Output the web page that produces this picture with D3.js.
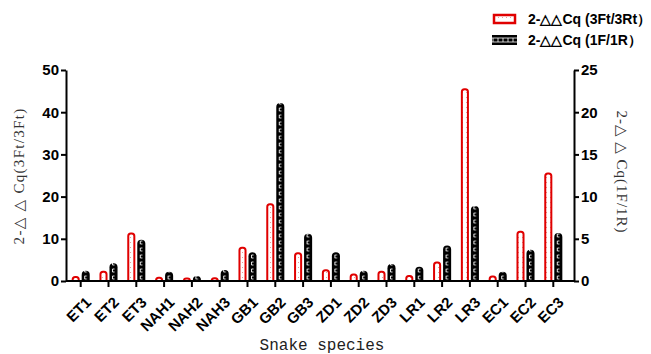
<!DOCTYPE html>
<html><head><meta charset="utf-8">
<script src="https://cdn.jsdelivr.net/npm/d3@7/dist/d3.min.js"></script>
<style>
body{margin:0;background:#fff;}
svg{display:block;}
.tk text{font-family:Arial,"Liberation Sans",sans-serif;font-weight:bold;font-size:15px;fill:#000;}
.tk path,.tk line{stroke:#000;stroke-width:2px;}
</style></head>
<body>
<script>
const categories = ["ET1","ET2","ET3","NAH1","NAH2","NAH3","GB1","GB2","GB3","ZD1","ZD2","ZD3","LR1","LR2","LR3","EC1","EC2","EC3"];
const series3Ft = [1.2,2.4,11.5,1.0,0.8,0.9,8.1,18.4,6.8,2.8,1.8,2.4,1.4,4.6,45.7,1.3,11.9,25.7];
const series1F  = [1.2,2.1,4.9,1.1,0.6,1.3,3.4,21.1,5.6,3.4,1.2,2.0,1.7,4.2,8.9,1.1,3.7,5.7];
const leftTicks = [0,10,20,30,40,50];
const rightTicks = [0,5,10,15,20,25];
const legendLabels = ["2-\u25B3\u25B3Cq (3Ft/3Rt\uFF09","2-\u25B3\u25B3Cq (1F/1R\uFF09"];
const leftTitle = "2-\u25B3 \u25B3 Cq(3Ft/3Ft)";
const rightTitle = "2-\u25B3 \u25B3 Cq(1F/1R)";
const xTitle = "Snake species";

const W=651,H=354;
const svg=d3.select("body").append("svg").attr("width",W).attr("height",H);
const defs=svg.append("defs");

const x0=66.8, x1=567.2, xRight=574;
const yTop=70, yBot=281;
const x=d3.scaleBand().domain(categories).range([x0,x1]).padding(0);
const yL=d3.scaleLinear().domain([0,50]).range([yBot,yTop]);
const yR=d3.scaleLinear().domain([0,25]).range([yBot,yTop]);
const bw=x.bandwidth();
const ctr=c=>x(c)+bw/2;
const gap=bw*0.035, barW=bw*0.29;

const pr=defs.append("pattern").attr("id","pRed").attr("patternUnits","userSpaceOnUse").attr("width",4).attr("height",5);
pr.append("rect").attr("width",4).attr("height",5).attr("fill","#fff");
pr.append("rect").attr("x",2).attr("y",2).attr("width",1).attr("height",1).attr("fill","#e99");
const pb=defs.append("pattern").attr("id","pBlk").attr("patternUnits","userSpaceOnUse")
  .attr("width",bw).attr("height",7).attr("x",x0+bw/2+gap+barW/2-4.5).attr("y",yBot);
pb.append("rect").attr("width",bw).attr("height",7).attr("fill","#000");
pb.append("path").attr("d","M3.5,2H5.5M3.5,2V5M3.5,5H5.5").attr("stroke","#fff").attr("stroke-width",0.9).attr("fill","none");
const pl=defs.append("pattern").attr("id","pLeg").attr("patternUnits","userSpaceOnUse").attr("width",5).attr("height",10).attr("x",492).attr("y",35);
pl.append("rect").attr("width",5).attr("height",10).attr("fill","#000");
pl.append("path").attr("d","M0,3H5M1,3V7M0,7H5").attr("stroke","#fff").attr("stroke-width",0.8).attr("fill","none");

function topRounded(xl,w,yt,yb,r){
  r=Math.min(r,w/2,(yb-yt));
  return `M${xl},${yb}V${yt+r}Q${xl},${yt} ${xl+r},${yt}H${xl+w-r}Q${xl+w},${yt} ${xl+w},${yt+r}V${yb}Z`;
}
svg.append("g").selectAll("path").data(categories).join("path")
  .attr("d",(c,i)=>topRounded(ctr(c)-gap-barW+1,barW-2,yL(series3Ft[i])+1,yBot,2.5))
  .attr("fill","url(#pRed)").attr("stroke","#e00000").attr("stroke-width",2);
svg.append("g").selectAll("path").data(categories).join("path")
  .attr("d",(c,i)=>topRounded(ctr(c)+gap,barW,yR(series1F[i]),yBot,barW/2))
  .attr("fill","url(#pBlk)");

svg.append("g").attr("class","tk").attr("transform",`translate(${x0-0.8},0)`)
  .call(d3.axisLeft(yL).tickValues(leftTicks).tickSize(5).tickSizeOuter(0).tickPadding(2));
svg.append("g").attr("class","tk").attr("transform",`translate(${xRight},0)`)
  .call(d3.axisRight(yR).tickValues(rightTicks).tickSize(5).tickSizeOuter(0).tickPadding(2));
const gb=svg.append("g").attr("class","tk").attr("transform",`translate(0,${yBot})`)
  .call(d3.axisBottom(x).tickSize(6).tickSizeOuter(0));
gb.select(".domain").remove();
gb.append("line").attr("x1",x0-0.8).attr("x2",xRight).attr("y1",0).attr("y2",0).attr("stroke","#000").attr("stroke-width",2);
gb.selectAll(".tick text").attr("text-anchor","end").attr("x",0).attr("y",0).attr("dy","0.7em")
  .attr("transform","translate(4,15) rotate(-45)").style("font-size","15px");

const serif="'Liberation Serif','DejaVu Serif',serif";
svg.append("text").attr("transform",`translate(24,176) rotate(-90)`).attr("text-anchor","middle")
  .style("font-family",serif).style("font-size","15px").style("letter-spacing","1.3px").style("fill","#333").text(leftTitle);
svg.append("text").attr("transform",`translate(617,172) rotate(90)`).attr("text-anchor","middle")
  .style("font-family",serif).style("font-size","15px").style("letter-spacing","1px").style("fill","#333").text(rightTitle);
svg.append("text").attr("x",322).attr("y",350).attr("text-anchor","middle")
  .style("font-family","'Liberation Mono','DejaVu Serif',serif").style("font-size","16px").style("fill","#222").text(xTitle);

const lg=svg.append("g");
const lgY=[14,35];
lg.append("rect").attr("x",494).attr("y",lgY[0]+1).attr("width",21).attr("height",8).attr("fill","url(#pRed)").attr("stroke","#e00000").attr("stroke-width",2.5);
lg.append("rect").attr("x",492).attr("y",lgY[1]).attr("width",25).attr("height",10).attr("fill","url(#pLeg)");
lg.selectAll("text").data(legendLabels).join("text").attr("x",528).attr("y",(d,i)=>lgY[i]+10)
  .style("font-family","Arial,'Liberation Sans',sans-serif").style("font-weight","bold").style("font-size","14px").text(d=>d);
</script>
</body></html>
